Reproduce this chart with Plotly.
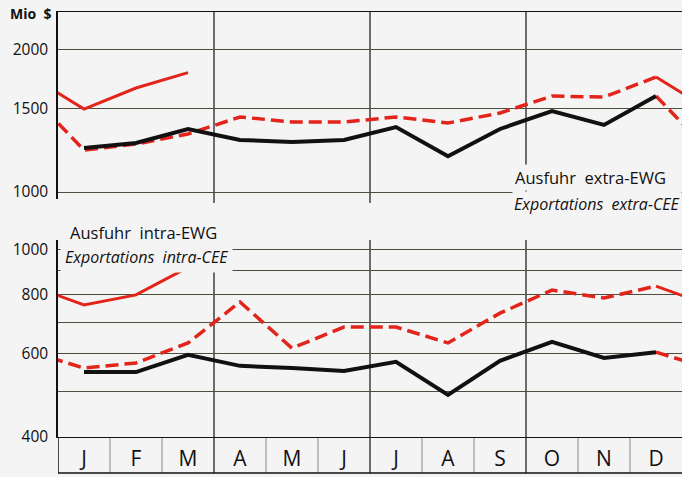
import math
import plotly.graph_objects as go

# ---------------- data ----------------
months = ["J", "F", "M", "A", "M", "J", "J", "A", "S", "O", "N", "D"]
month_pos = list(range(1, 13))

# Ausfuhr extra-EWG (Mio $)
extra_year1 = [1240, 1270, 1360, 1289, 1276, 1289, 1373, 1190, 1360, 1484, 1387, 1597]
extra_year2 = [1227, 1264, 1327, 1442, 1407, 1407, 1442, 1400, 1470, 1597, 1589, 1752]
extra_year3 = [1499, 1661, 1790]

# Ausfuhr intra-EWG (Mio $)
intra_year1 = [549, 549, 597, 566, 560, 552, 577, 491, 580, 636, 588, 605]
intra_year2 = [560, 574, 633, 773, 617, 684, 684, 633, 732, 819, 788, 835]
intra_year3 = [762, 800, 915]

top_ticks = [1000, 1500, 2000]
top_ticktext = ["1000", "1500", "2000"]
bottom_ticks = [400, 500, 600, 700, 800, 900, 1000]
bottom_ticktext = ["400", "", "600", "", "800", "", "1000"]

# ---------------- style ----------------
W, H = 682, 477
BG = "#f4f4f4"
BLACK = "#111111"
RED = "#e3241b"
GRID = "#4d4d40"
FONT = "Open Sans"
PX_PER_DECADE = 472.0


def py(pix):
    """pixel row -> paper fraction"""
    return (H - pix) / H


fig = go.Figure()


def add_panel(y1, y2, y3, xa, ya):
    # year 3 (red solid), continuing from year 2 December
    fig.add_trace(go.Scatter(x=[0] + month_pos[:len(y3)], y=[y2[-1]] + y3, mode="lines",
                             line=dict(color=RED, width=3), xaxis=xa, yaxis=ya))
    fig.add_trace(go.Scatter(x=[12, 13], y=[y2[-1], y3[0]], mode="lines",
                             line=dict(color=RED, width=3), xaxis=xa, yaxis=ya))
    # year 2 (red dashed), continuing from year 1 December
    fig.add_trace(go.Scatter(x=[0] + month_pos, y=[y1[-1]] + y2, mode="lines",
                             line=dict(color=RED, width=3.5, dash="13px,6px"), xaxis=xa, yaxis=ya))
    fig.add_trace(go.Scatter(x=[12, 13], y=[y1[-1], y2[0]], mode="lines",
                             line=dict(color=RED, width=3.5, dash="13px,6px"), xaxis=xa, yaxis=ya))
    # year 1 (black)
    fig.add_trace(go.Scatter(x=month_pos, y=y1, mode="lines",
                             line=dict(color=BLACK, width=4), xaxis=xa, yaxis=ya))


add_panel(extra_year1, extra_year2, extra_year3, "x", "y")
add_panel(intra_year1, intra_year2, intra_year3, "x2", "y2")

# panel geometry (pixels)
top_t, top_b, top_base = 12, 199, 192          # top panel: 1000 line at row 192
bot_t, bot_b = 240, 437                        # bottom panel: 400 line at row 437
strip_b = 473

top_lo = 3 - (top_b - top_base) / PX_PER_DECADE
top_hi = 3 + (top_base - top_t) / PX_PER_DECADE
bot_lo = math.log10(400)
bot_hi = bot_lo + (bot_b - bot_t) / PX_PER_DECADE

xrange = [month_pos[0] - 0.5, month_pos[-1] + 0.5]

fig.update_layout(
    width=W, height=H,
    margin=dict(l=58, r=0, t=0, b=0, pad=0),
    paper_bgcolor=BG, plot_bgcolor="rgba(0,0,0,0)",
    showlegend=False,
    font=dict(family=FONT, color="#111"),
    xaxis=dict(domain=[0, 1], anchor="y", range=xrange, side="top", automargin=False,
               showline=True, linecolor=BLACK, linewidth=1.2,
               showticklabels=False, ticks="", showgrid=False, zeroline=False),
    yaxis=dict(domain=[py(top_b), py(top_t)], anchor="x", type="log", automargin=False,
               range=[top_lo, top_hi], tickvals=top_ticks, ticktext=top_ticktext,
               showline=True, linecolor=BLACK, linewidth=1.5,
               showgrid=True, gridcolor=GRID, gridwidth=1, zeroline=False,
               ticks="", ticklabelstandoff=5,
               tickfont=dict(size=15.5, color="#111", family=FONT)),
    xaxis2=dict(domain=[0, 1], anchor="y2", range=xrange, automargin=False,
                tickvals=month_pos, ticktext=months,
                showline=True, linecolor=BLACK, linewidth=1.2,
                showgrid=False, zeroline=False, ticks="", ticklabelstandoff=3,
                tickfont=dict(size=21, color="#111", family=FONT)),
    yaxis2=dict(domain=[py(bot_b), py(bot_t)], anchor="x2", type="log", automargin=False,
                range=[bot_lo, bot_hi], tickvals=bottom_ticks, ticktext=bottom_ticktext,
                showline=True, linecolor=BLACK, linewidth=1.5,
                showgrid=True, gridcolor=GRID, gridwidth=1, zeroline=False,
                ticks="", ticklabelstandoff=5,
                tickfont=dict(size=15.5, color="#111", family=FONT)),
)

shapes = []
boundaries = [m + 0.5 for m in month_pos[:-1]]
for i, b in enumerate(boundaries):
    quarter = (i + 1) % 3 == 0
    if quarter:
        shapes.append(dict(type="line", xref="x", yref="paper", x0=b, x1=b,
                           y0=py(203), y1=py(top_t), line=dict(color=BLACK, width=1.2),
                           layer="below"))
        shapes.append(dict(type="line", xref="x2", yref="paper", x0=b, x1=b,
                           y0=py(strip_b), y1=py(bot_t), line=dict(color=BLACK, width=1.2),
                           layer="below"))
    else:
        shapes.append(dict(type="line", xref="x2", yref="paper", x0=b, x1=b,
                           y0=py(strip_b), y1=py(bot_b), line=dict(color="#8a8a80", width=1),
                           layer="below"))
# strip frame
shapes.append(dict(type="line", xref="x2", yref="paper", x0=xrange[0], x1=xrange[0],
                   y0=py(strip_b), y1=py(bot_b), line=dict(color=BLACK, width=1.5)))
shapes.append(dict(type="line", xref="x2", yref="paper", x0=xrange[0], x1=xrange[1],
                   y0=py(strip_b), y1=py(strip_b), line=dict(color=BLACK, width=1.5)))
fig.update_layout(shapes=shapes)


def xp(pix):
    return (pix - 58) / 624.0


annotations = [
    dict(text="<b>Mio  $</b>", x=xp(8), y=py(14), xanchor="left", yanchor="middle",
         font=dict(size=14, family=FONT)),
    dict(text="Ausfuhr  extra-EWG", x=xp(513), y=py(191), xanchor="left", yanchor="bottom",
         font=dict(size=16.5, family=FONT), bgcolor=BG, borderpad=1),
    dict(text="<i>Exportations  extra-CEE</i>", x=xp(512), y=py(204), xanchor="left",
         yanchor="middle", font=dict(size=16, family=FONT), bgcolor=BG, borderpad=1),
    dict(text="Ausfuhr  intra-EWG", x=xp(68), y=py(232), xanchor="left", yanchor="middle",
         font=dict(size=16.5, family=FONT), bgcolor=BG, borderpad=1),
    dict(text="<i>Exportations  intra-CEE</i>", x=xp(60), y=py(257), xanchor="left",
         yanchor="middle", font=dict(size=16, family=FONT), bgcolor=BG, borderpad=4),
]
for a in annotations:
    a.update(xref="paper", yref="paper", showarrow=False)
fig.update_layout(annotations=annotations)

fig.write_html(
    "out.html",
    config={"displayModeBar": False},
    post_script="document.body.style.margin='0';document.body.style.overflow='hidden';",
)
